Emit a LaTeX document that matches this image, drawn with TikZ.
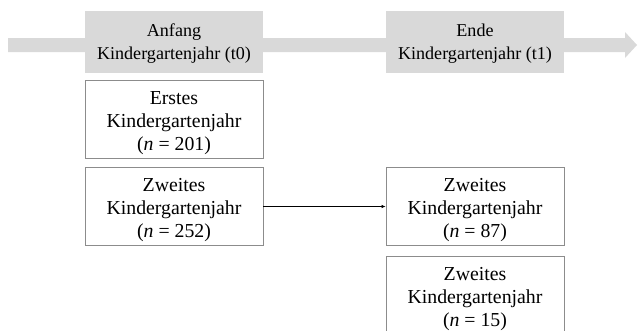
\documentclass[tikz,border=0pt]{standalone}
\usepackage{fontspec}
\setmainfont{Liberation Serif}
\usepackage{xcolor}
\usepackage{tikz}
\usetikzlibrary{arrows.meta}
\definecolor{phase}{HTML}{D9D9D9}
\definecolor{rim}{HTML}{8C8C8C}
\newcommand{\lift}[1]{\rule{0pt}{#1}}

\begin{document}
\begin{tikzpicture}[x=1pt,y=-1pt]
\tikzset{hd/.style={align=center, fill=phase, minimum width=178pt, minimum height=62pt, inner sep=0pt, font=\fontsize{18.1}{22.6}\selectfont},
  grp/.style={align=center, draw=rim, fill=white, line width=.8pt, minimum width=178pt, minimum height=78pt, inner sep=0pt, font=\fontsize{19.8}{23}\selectfont},
  conn/.style={line width=.6pt, -{Latex[length=4pt,width=3.5pt]}}};
\clip (0,0) rectangle (638,330);
% timeline
\fill [phase] (8,38) -- (625,38) -- (625,32) -- (637,45) -- (625,58) -- (625,52) -- (8,52) -- cycle;
\node [hd] (t0) at (174,42) {\lift{16pt}Anfang\\Kindergartenjahr (t0)};
\node [hd] (t1) at (475,42) {\lift{16pt}Ende\\Kindergartenjahr (t1)};
% groups
\node [grp] (erst) at (174,119) {\lift{21pt}Erstes\\Kindergartenjahr\\(\textit{n} = 201)};
\node [grp] (zweitA) at (174,206.5) {\lift{21pt}Zweites\\Kindergartenjahr\\(\textit{n} = 252)};
\node [grp] (zweitB) at (475,206.5) {\lift{21pt}Zweites\\Kindergartenjahr\\(\textit{n} = 87)};
\node [grp] (zweitC) at (475,295) {\lift{21pt}Zweites\\Kindergartenjahr\\(\textit{n} = 15)};
\draw [conn] (zweitA) -- (zweitB);
\end{tikzpicture}
\end{document}
